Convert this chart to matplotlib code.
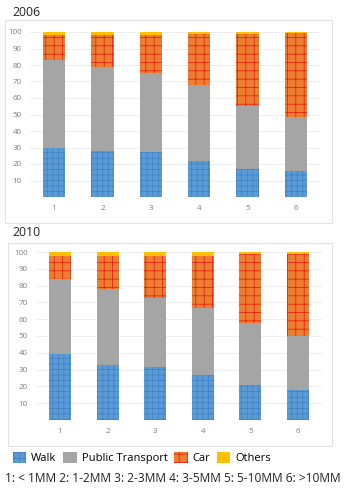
import matplotlib
matplotlib.use("Agg")
import matplotlib.pyplot as plt
from matplotlib.patches import Rectangle
import numpy as np

plt.rcParams['font.family'] = ['Open Sans', 'DejaVu Sans']
plt.rcParams['hatch.linewidth'] = 0.5

categories = ["1", "2", "3", "4", "5", "6"]
series = ["Walk", "Public Transport", "Car", "Others"]

walk_2006 = [30, 28, 27, 22, 17, 15.5]
pt_2006 = [53, 51, 48, 46, 38, 33]
car_2006 = [15, 19, 23, 31, 44, 51]
others_2006 = [2, 2, 2, 1, 1, 0.5]

walk_2010 = [39, 33, 31.5, 26.5, 21, 18]
pt_2010 = [45, 45, 41, 40, 37, 32]
car_2010 = [13.5, 19.5, 25, 31, 41, 49]
others_2010 = [2.5, 2.5, 2.5, 2.5, 1, 1]

yticks = [10, 20, 30, 40, 50, 60, 70, 80, 90, 100]
note = "1: < 1MM 2: 1-2MM 3: 2-3MM 4: 3-5MM 5: 5-10MM 6: >10MM"

colors = ["#5B9BD5", "#A5A5A5", "#ED7D31", "#FFC000"]
hatch_colors = ["#3F7FC4", "#A5A5A5", "#E8160C", "#FFC000"]
hatches = ["+++", None, "++", None]

W, H = 353, 493
fig = plt.figure(figsize=(W / 100, H / 100), dpi=100)

def px_axes(x0, x1, ytop, ybot):
    return fig.add_axes([x0 / W, 1 - ybot / H, (x1 - x0) / W, (ybot - ytop) / H])

def frame(x0, x1, y0, y1):
    fig.patches.append(Rectangle((x0 / W, 1 - y1 / H), (x1 - x0) / W, (y1 - y0) / H,
                                 transform=fig.transFigure, fill=False,
                                 edgecolor="#E3E3E3", linewidth=0.8, zorder=0))

def draw(ax, data):
    x = np.arange(len(categories))
    bottom = np.zeros(len(categories))
    handles = []
    for i, vals in enumerate(data):
        vals = np.array(vals, dtype=float)
        b = ax.bar(x, vals, width=0.46, bottom=bottom, color=colors[i],
                   edgecolor=hatch_colors[i], linewidth=0, hatch=hatches[i],
                   label=series[i], zorder=3)
        handles.append(b)
        bottom += vals
    ax.set_xlim(-0.5, len(categories) - 0.5)
    ax.set_ylim(0, 100)
    ax.set_yticks(yticks)
    ax.set_xticks(x)
    ax.set_xticklabels(categories)
    ax.tick_params(length=0, labelsize=5.8, colors="#7F7F7F", pad=6)
    ax.grid(axis="y", color="#EDEDED", linewidth=0.6, zorder=0)
    for s in ax.spines.values():
        s.set_visible(False)
    return handles

frame(5, 332, 20, 223)
ax1 = px_axes(29.8, 320.2, 32, 197)
draw(ax1, [walk_2006, pt_2006, car_2006, others_2006])
fig.text(12 / W, 1 - 12 / H, "2006", fontsize=8.8, va="center", ha="left", color="#222222")

frame(8, 332, 243, 446)
ax2 = px_axes(36.2, 321.8, 252, 420)
handles = draw(ax2, [walk_2010, pt_2010, car_2010, others_2010])
fig.text(12 / W, 1 - 232 / H, "2010", fontsize=8.8, va="center", ha="left", color="#222222")

fig.legend(handles=handles, labels=series, loc="center left",
           bbox_to_anchor=(13 / W, 1 - 458 / H), ncol=4, frameon=False,
           fontsize=8, handlelength=1.2, handleheight=1.2, handletextpad=0.45,
           columnspacing=0.6, borderaxespad=0, borderpad=0)

fig.text(5 / W, 1 - 479 / H, note, fontsize=8.6, va="center", ha="left", color="#222222")

fig.savefig("out.png", dpi=100)
